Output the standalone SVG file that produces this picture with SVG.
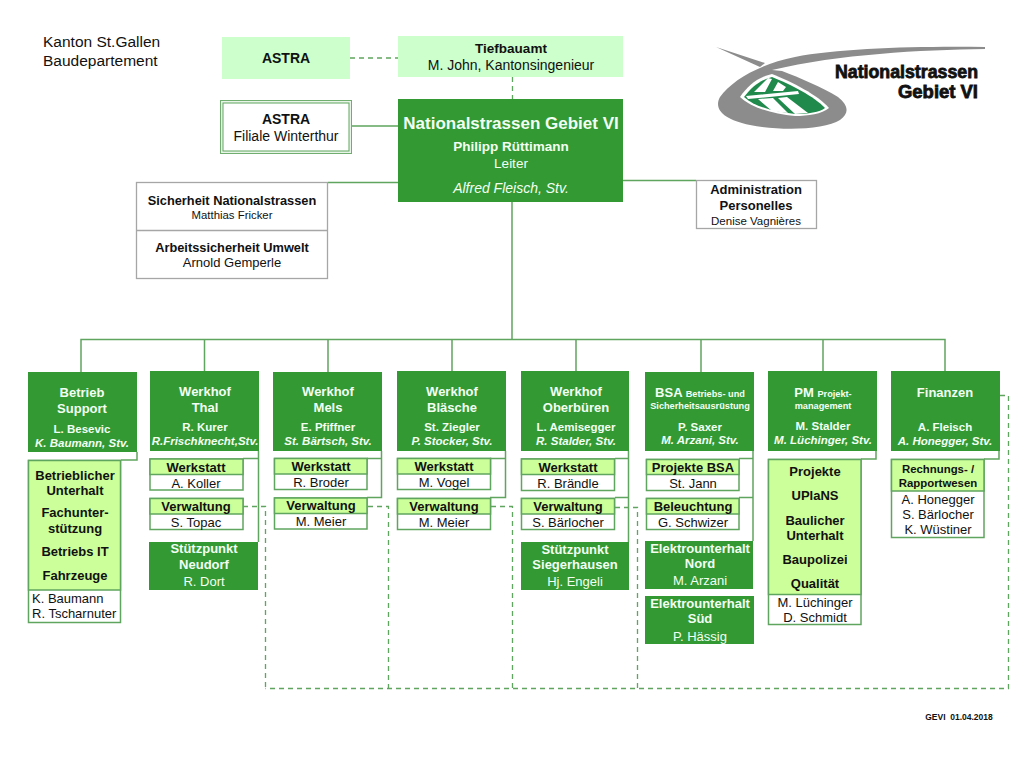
<svg xmlns="http://www.w3.org/2000/svg" width="1024" height="768" viewBox="0 0 1024 768">
<style>
text{font-family:"Liberation Sans",Arial,sans-serif;text-anchor:middle;fill:#111}
.dk{fill:#339933}.lt{fill:#ccff99}.pale{fill:#ccffcc}
.ol{fill:#fff;stroke:#5fa55f;stroke-width:1.5}
.lo{fill:#ccff99;stroke:#5fa55f;stroke-width:1.5}
.gb{fill:#fff;stroke:#a6a6a6;stroke-width:1.3}
.w{fill:#f2fff2}
.h{font-size:13px;font-weight:bold}
.s{font-size:11.5px;font-weight:bold}
.i{font-size:11.5px;font-weight:bold;font-style:italic}
.t{font-size:13px;font-weight:bold}
.n{font-size:13px}
.ln{fill:none;stroke:#5fa55f;stroke-width:1.5}
.da{fill:none;stroke:#5fa55f;stroke-width:1.3;stroke-dasharray:5 4}
.lg{text-anchor:end;font-size:18px;font-weight:bold;stroke:#111;stroke-width:.8}
</style>

<g id="connectors">
<path class="ln" d="M351 126H398M328 182.500H398M623 180.500H696M512 202V339.500M81 372V339.500H945V371M204.500 339.500V371M328 339.500V372M452 339.500V371M576 339.500V371M701 339.500V372M823 339.500V371"/>
<path class="ln" d="M258.500 451V542M243 458.500H258.500M381.500 451V497.500H367M367 458.500H381.500M505.500 451V497.500H490M490 458.500H505.500M628.500 451V542M615 458.500H628.500M615 497.500H628.500M753 451V541M739 458.500H753M739 497.500H753M137 452V460H121M876 451V459H861M999 451V459H984"/>
<path class="da" d="M350 58H398M512.500 77V99"/>
<path class="da" d="M243 506.500H265.500V688M368 506.500H388.500V688M491 506.500H512.500V688M615 507.500H637.500V688M1000 395.500H1008.500V688.500H265.500"/>
</g>

<g id="header"><text x="43" y="47" style="text-anchor:start;font-size:15.500px">Kanton St.Gallen</text><text x="43" y="66" style="text-anchor:start;font-size:15.500px">Baudepartement</text></g>

<g id="logo">
<path fill="#8c8c8c" d="M716 47L765 63L760 67Z"/>
<path fill="#8c8c8c" d="M985 47C920 46 840 48 795 57C760 64 732 80 720 97C713 110 725 120 750 125C780 131 825 130 840 120C850 113 848 105 838 97C822 87 800 78 782 71L772 70C840 54 920 50 985 49Z"/>
<path fill="#fff" d="M740 97C748 85 758 77 772 74C792 82 818 95 829 108C822 114 808 116 795 116C773 114 752 108 740 97Z"/>
<path fill="#1f8a4c" d="M744 97C752 87 760 80 772 77C790 84 815 97 825 108C820 112 808 114 795 114C775 112 755 107 744 97Z"/>
<path fill="#fff" d="M746 96L798 91L799 94L748 99ZM754 92L768 78L772 79L765 92ZM773 91L778 82L786 87L783 91ZM758 99L772 111L788 113L773 98ZM778 98L795 114L808 113L787 97Z"/>
<text class="lg" x="978" y="78" textLength="143" lengthAdjust="spacingAndGlyphs">Nationalstrassen</text>
<text class="lg" x="978" y="98" textLength="80" lengthAdjust="spacingAndGlyphs">Gebiet VI</text>
</g>

<g id="astra"><rect class="pale" x="222" y="37" width="128" height="42"/><text x="286" y="63" style="font-size:14px;font-weight:bold">ASTRA</text></g>
<g id="tiefbauamt"><rect class="pale" x="398" y="36" width="225" height="41"/><text x="511" y="53" style="font-size:13.500px;font-weight:bold">Tiefbauamt</text><text x="511" y="70" style="font-size:14px">M. John, Kantonsingenieur</text></g>
<g id="gebiet"><rect class="dk" x="398" y="99" width="225" height="103"/><text class="w" x="511" y="129" style="font-size:17px;font-weight:bold">Nationalstrassen Gebiet VI</text><text class="w" x="511" y="151" style="font-size:13.500px;font-weight:bold">Philipp Rüttimann</text><text class="w" x="511" y="168" style="font-size:13.500px">Leiter</text><text class="w" x="511" y="193" style="font-size:14px;font-style:italic">Alfred Fleisch, Stv.</text></g>
<g id="filiale"><rect x="220.500" y="100.500" width="131" height="53" fill="#eaf5ea" stroke="#6fae6f" stroke-width="1"/><rect x="223" y="103" width="126" height="48" fill="#fff" stroke="#5fa55f" stroke-width="1"/><text x="286" y="124" style="font-size:14px;font-weight:bold">ASTRA</text><text x="286" y="141" style="font-size:14px">Filiale Winterthur</text></g>
<g id="sicherheit"><rect class="gb" x="136.500" y="182.500" width="191" height="96"/><path d="M136 230.500H328" stroke="#a6a6a6" stroke-width="1.300"/><text x="232" y="205" style="font-size:12.800px;font-weight:bold">Sicherheit Nationalstrassen</text><text x="232" y="219" style="font-size:11.400px">Matthias Fricker</text><text x="232" y="252" style="font-size:12.800px;font-weight:bold">Arbeitssicherheit Umwelt</text><text x="232" y="267" style="font-size:13px">Arnold Gemperle</text></g>
<g id="administration"><rect class="gb" x="696.500" y="180.500" width="120" height="48"/><text x="756" y="194" style="font-size:13px;font-weight:bold">Administration</text><text x="756" y="210" style="font-size:13px;font-weight:bold">Personelles</text><text x="756" y="225" style="font-size:11.500px">Denise Vagnières</text></g>

<g id="betrieb"><rect class="dk" x="28" y="372" width="109" height="80"/><text class="w h" x="82" y="397">Betrieb</text><text class="w h" x="82" y="413">Support</text><text class="w s" x="82" y="433">L. Besevic</text><text class="w i" x="82" y="447">K. Baumann, Stv.</text></g>
<g id="betrieb-sub"><rect class="ol" x="28.500" y="460.500" width="92" height="162"/><rect class="lo" x="28.500" y="460.500" width="92" height="129.500"/><text class="t" x="75" y="480">Betrieblicher</text><text class="t" x="75" y="495">Unterhalt</text><text class="t" x="75" y="517">Fachunter-</text><text class="t" x="75" y="533">stützung</text><text class="t" x="75" y="556">Betriebs IT</text><text class="t" x="75" y="580">Fahrzeuge</text><text class="n" x="32" y="603" style="text-anchor:start">K. Baumann</text><text class="n" x="32" y="618" style="text-anchor:start">R. Tscharnuter</text></g>

<g id="thal"><rect class="dk" x="150" y="371" width="109" height="80"/><text class="w h" x="205" y="396">Werkhof</text><text class="w h" x="205" y="412">Thal</text><text class="w s" x="205" y="431">R. Kurer</text><text class="w i" x="205" y="445">R.Frischknecht,Stv.</text></g>
<g id="thal-w"><rect class="ol" x="150" y="459" width="93" height="31"/><rect class="lo" x="150" y="459" width="93" height="15.500"/><text class="t" x="196" y="472">Werkstatt</text><text class="n" x="196" y="488">A. Koller</text></g>
<g id="thal-v"><rect class="ol" x="150" y="498.500" width="93" height="31"/><rect class="lo" x="150" y="498.500" width="93" height="15.500"/><text class="t" x="196" y="511">Verwaltung</text><text class="n" x="196" y="527">S. Topac</text></g>
<g id="neudorf"><rect class="dk" x="149" y="542" width="109" height="48"/><text class="w h" x="204" y="553">Stützpunkt</text><text class="w h" x="204" y="569">Neudorf</text><text class="w" x="204" y="586" style="font-size:13px">R. Dort</text></g>

<g id="mels"><rect class="dk" x="273" y="372" width="109" height="79"/><text class="w h" x="328" y="396">Werkhof</text><text class="w h" x="328" y="412">Mels</text><text class="w s" x="328" y="431">E. Pfiffner</text><text class="w i" x="328" y="445">St. Bärtsch, Stv.</text></g>
<g id="mels-w"><rect class="ol" x="274.500" y="458.500" width="92.500" height="31"/><rect class="lo" x="274.500" y="458.500" width="92.500" height="15.500"/><text class="t" x="321" y="471">Werkstatt</text><text class="n" x="321" y="487">R. Broder</text></g>
<g id="mels-v"><rect class="ol" x="274.500" y="498" width="92.500" height="31"/><rect class="lo" x="274.500" y="498" width="92.500" height="15.500"/><text class="t" x="321" y="510">Verwaltung</text><text class="n" x="321" y="526">M. Meier</text></g>

<g id="blaesche"><rect class="dk" x="397" y="371" width="109" height="80"/><text class="w h" x="452" y="396">Werkhof</text><text class="w h" x="452" y="412">Bläsche</text><text class="w s" x="452" y="431">St. Ziegler</text><text class="w i" x="452" y="445">P. Stocker, Stv.</text></g>
<g id="blaesche-w"><rect class="ol" x="397.500" y="458.500" width="93" height="31"/><rect class="lo" x="397.500" y="458.500" width="93" height="15.500"/><text class="t" x="444" y="471">Werkstatt</text><text class="n" x="444" y="487">M. Vogel</text></g>
<g id="blaesche-v"><rect class="ol" x="397.500" y="498.500" width="93" height="31"/><rect class="lo" x="397.500" y="498.500" width="93" height="15.500"/><text class="t" x="444" y="511">Verwaltung</text><text class="n" x="444" y="527">M. Meier</text></g>

<g id="oberbueren"><rect class="dk" x="521" y="371" width="108" height="80"/><text class="w h" x="576" y="396">Werkhof</text><text class="w h" x="576" y="412">Oberbüren</text><text class="w s" x="576" y="431">L. Aemisegger</text><text class="w i" x="576" y="445">R. Stalder, Stv.</text></g>
<g id="oberbueren-w"><rect class="ol" x="521.500" y="459" width="93" height="31.500"/><rect class="lo" x="521.500" y="459" width="93" height="15.500"/><text class="t" x="568" y="472">Werkstatt</text><text class="n" x="568" y="488">R. Brändle</text></g>
<g id="oberbueren-v"><rect class="ol" x="521.500" y="498.500" width="93" height="31"/><rect class="lo" x="521.500" y="498.500" width="93" height="15.500"/><text class="t" x="568" y="511">Verwaltung</text><text class="n" x="568" y="527">S. Bärlocher</text></g>
<g id="siegerhausen"><rect class="dk" x="521" y="542" width="108" height="48"/><text class="w h" x="575" y="554">Stützpunkt</text><text class="w h" x="575" y="569">Siegerhausen</text><text class="w" x="575" y="586" style="font-size:13px">Hj. Engeli</text></g>

<g id="bsa"><rect class="dk" x="645" y="372" width="109" height="79"/><text class="w" x="700" y="397" style="font-size:13px;font-weight:bold">BSA <tspan style="font-size:9.200px">Betriebs- und</tspan></text><text class="w" x="700" y="409" style="font-size:9.200px;font-weight:bold">Sicherheitsausrüstung</text><text class="w s" x="700" y="431">P. Saxer</text><text class="w i" x="700" y="444">M. Arzani, Stv.</text></g>
<g id="bsa-p"><rect class="ol" x="646.500" y="459.500" width="92.500" height="31"/><rect class="lo" x="646.500" y="459.500" width="92.500" height="15"/><text class="t" x="693" y="472">Projekte BSA</text><text class="n" x="693" y="488">St. Jann</text></g>
<g id="bsa-b"><rect class="ol" x="646.500" y="498.500" width="92.500" height="31"/><rect class="lo" x="646.500" y="498.500" width="92.500" height="15.500"/><text class="t" x="693" y="511">Beleuchtung</text><text class="n" x="693" y="527">G. Schwizer</text></g>
<g id="nord"><rect class="dk" x="645" y="541" width="108" height="48"/><text class="w h" x="700" y="553">Elektrounterhalt</text><text class="w h" x="700" y="568">Nord</text><text class="w" x="700" y="585" style="font-size:13px">M. Arzani</text></g>
<g id="sued"><rect class="dk" x="645" y="596" width="109" height="48"/><text class="w h" x="700" y="608">Elektrounterhalt</text><text class="w h" x="700" y="623">Süd</text><text class="w" x="700" y="641" style="font-size:13px">P. Hässig</text></g>

<g id="pm"><rect class="dk" x="768" y="371" width="109" height="80"/><text class="w" x="823" y="397" style="font-size:13px;font-weight:bold">PM <tspan style="font-size:9.200px">Projekt-</tspan></text><text class="w" x="823" y="409" style="font-size:9.200px;font-weight:bold">management</text><text class="w s" x="823" y="430">M. Stalder</text><text class="w i" x="823" y="444">M. Lüchinger, Stv.</text></g>
<g id="pm-sub"><rect class="ol" x="768.500" y="459.500" width="92.500" height="165"/><rect class="lo" x="768.500" y="459.500" width="92.500" height="135"/><text class="t" x="815" y="476">Projekte</text><text class="t" x="815" y="500">UPlaNS</text><text class="t" x="815" y="525">Baulicher</text><text class="t" x="815" y="540">Unterhalt</text><text class="t" x="815" y="564">Baupolizei</text><text class="t" x="815" y="588">Qualität</text><text class="n" x="815" y="607">M. Lüchinger</text><text class="n" x="815" y="622">D. Schmidt</text></g>

<g id="finanzen"><rect class="dk" x="891" y="371" width="109" height="80"/><text class="w h" x="945" y="397">Finanzen</text><text class="w s" x="945" y="431">A. Fleisch</text><text class="w i" x="945" y="445">A. Honegger, Stv.</text></g>
<g id="finanzen-sub"><rect class="ol" x="891.500" y="459.500" width="92.500" height="78"/><rect class="lo" x="891.500" y="459.500" width="92.500" height="31.500"/><text x="938" y="473" style="font-size:11.400px;font-weight:bold">Rechnungs- /</text><text x="938" y="487" style="font-size:11.400px;font-weight:bold">Rapportwesen</text><text class="n" x="938" y="504">A. Honegger</text><text class="n" x="938" y="519">S. Bärlocher</text><text class="n" x="938" y="534">K. Wüstiner</text></g>

<g id="footer"><text x="959" y="720" style="font-size:8.500px;font-weight:bold;white-space:pre">GEVI  01.04.2018</text></g>
</svg>
